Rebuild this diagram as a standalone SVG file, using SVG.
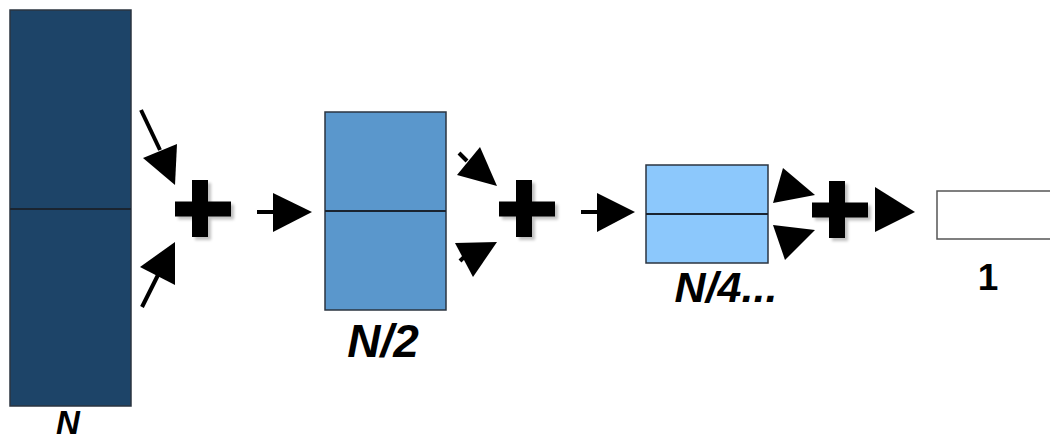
<svg xmlns="http://www.w3.org/2000/svg" width="1050" height="443" viewBox="0 0 1050 443">
  <style>
    .box { stroke: #2b3440; stroke-width: 1.5; }
    .div { stroke: #1a2430; stroke-width: 2; }
    .lbl { font-family: "Liberation Sans", Arial, sans-serif; font-weight: bold; fill: #000; text-anchor: middle; }
    .it { font-style: italic; }
    .plus { fill: #000; filter: url(#soft); }
    .head { fill: #000; }
    .shaft { stroke: #000; stroke-width: 4; stroke-linecap: butt; }
  </style>
  <defs>
    <filter id="soft" x="-30%" y="-30%" width="160%" height="160%">
      <feGaussianBlur in="SourceAlpha" stdDeviation="1.5"/>
      <feOffset dx="3" dy="3" result="b"/>
      <feComponentTransfer><feFuncA type="linear" slope="0.25"/></feComponentTransfer>
      <feMerge><feMergeNode/><feMergeNode in="SourceGraphic"/></feMerge>
    </filter>
    <path id="plusShape" d="M-29,-7.5 H-12 V-29 H4 V-7.5 H27 V7.5 H4 V28 H-12 V7.5 H-29 Z"/>
  </defs>

  <!-- array of N elements, split in halves -->
  <g id="node-n">
    <rect class="box" x="10" y="10" width="121" height="396" fill="#1d4468"/>
    <line class="div" x1="10" y1="209" x2="131" y2="209"/>
    <text class="lbl it" x="68" y="434" font-size="33">N</text>
  </g>

  <!-- array of N/2 elements -->
  <g id="node-n2">
    <rect class="box" x="325" y="112" width="121" height="198" fill="#5a97cc"/>
    <line class="div" x1="325" y1="211" x2="446" y2="211"/>
    <text class="lbl it" x="383" y="357" font-size="46">N/2</text>
  </g>

  <!-- array of N/4 elements -->
  <g id="node-n4">
    <rect class="box" x="646" y="165" width="122" height="98" fill="#8cc8fc"/>
    <line class="div" x1="646" y1="214" x2="768" y2="214"/>
    <text class="lbl it" x="726" y="302" font-size="43">N/4...</text>
  </g>

  <!-- single result -->
  <g id="node-1">
    <rect x="937" y="191" width="120" height="48" fill="#fff" stroke="#555" stroke-width="1.5"/>
    <text class="lbl" x="988" y="290" style="font-size:37px">1</text>
  </g>

  <!-- pairwise sum operators -->
  <g id="sum-1"><use href="#plusShape" class="plus" transform="translate(204,209)"/></g>
  <g id="sum-2"><use href="#plusShape" class="plus" transform="translate(528,209)"/></g>
  <g id="sum-3"><use href="#plusShape" class="plus" transform="translate(841,210)"/></g>

  <g id="connectors">
    <!-- N halves into first sum -->
    <line class="shaft" x1="141" y1="110" x2="160" y2="150"/>
    <polygon class="head" points="143,158 177,144 175,185"/>
    <line class="shaft" x1="142" y1="307" x2="158" y2="275"/>
    <polygon class="head" points="140,267 175,242 175,285"/>
    <line class="shaft" x1="257" y1="212" x2="274" y2="212"/>
    <polygon class="head" points="273,193 312,212 273,232"/>

    <!-- N/2 halves into second sum -->
    <line class="shaft" x1="459" y1="153" x2="467" y2="161"/>
    <polygon class="head" points="457,175 480,147 497,186"/>
    <line class="shaft" x1="460" y1="261" x2="467" y2="254"/>
    <polygon class="head" points="455,243 497,242 473,277"/>
    <line class="shaft" x1="581" y1="212" x2="598" y2="212"/>
    <polygon class="head" points="597,193 635,212 597,232"/>

    <!-- N/4 halves into third sum -->
    <polygon class="head" points="783,168 815,195 773,203"/>
    <polygon class="head" points="773,225 815,230 785,260"/>
    <polygon class="head" points="875,187 915,212 875,232"/>
  </g>
</svg>
